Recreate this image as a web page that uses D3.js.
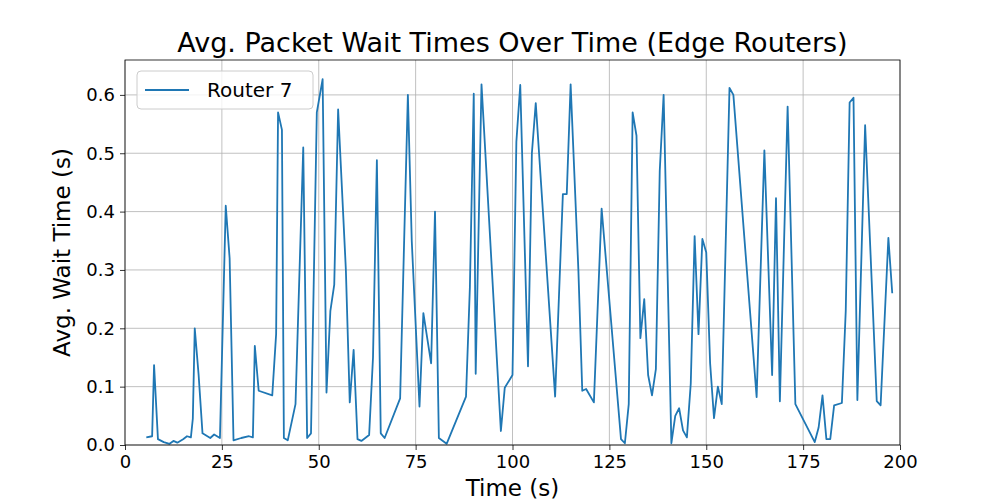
<!DOCTYPE html>
<html>
<head>
<meta charset="utf-8">
<script src="https://cdn.jsdelivr.net/npm/d3@7"></script>
<style>
  body { margin: 0; background: #fff; }
  text { font-family: "DejaVu Sans", sans-serif; }
</style>
</head>
<body>
<svg id="chart" width="1000" height="500"></svg>
<script>
// Data
const times = [5.5, 7, 7.5, 8.5, 10, 11.5, 12.5, 13.5, 15, 16, 17, 17.5, 18, 19, 20, 22, 23, 24.5, 26, 27,
  28, 30, 32, 33, 33.5, 34.5, 38, 39, 39.5, 40.5, 41, 42, 44, 46, 47, 48, 49.5, 51, 52, 53,
  54, 55, 57, 58, 59, 60, 61, 63, 64, 65, 66, 67, 71, 73, 74, 76, 77, 79, 80, 81,
  83, 88, 89, 90, 90.5, 92, 93, 97, 98, 100, 101, 102, 104, 105, 106, 111, 113, 114, 115, 117,
  118, 119, 121, 123, 128, 129, 130, 131, 132, 133, 134, 135, 136, 137, 138, 139, 141, 142, 143, 144,
  145, 146, 147, 148, 149, 150, 151, 152, 153, 154, 156, 157, 163, 165, 167, 168, 169, 171, 173, 178,
  179, 180, 181, 182, 183, 185, 186, 187, 188, 189, 191, 194, 195, 197, 198];
const waits = [0.013, 0.015, 0.137, 0.01, 0.005, 0.002, 0.007, 0.004, 0.01, 0.015, 0.013, 0.045, 0.2, 0.12, 0.02, 0.012, 0.018, 0.012, 0.41, 0.32,
  0.008, 0.012, 0.015, 0.013, 0.17, 0.093, 0.085, 0.19, 0.57, 0.54, 0.012, 0.008, 0.07, 0.51, 0.012, 0.02, 0.57, 0.627, 0.09, 0.23,
  0.275, 0.575, 0.3, 0.073, 0.163, 0.01, 0.007, 0.017, 0.15, 0.488, 0.02, 0.012, 0.08, 0.6, 0.35, 0.066, 0.226, 0.14, 0.4, 0.012,
  0.002, 0.083, 0.27, 0.602, 0.122, 0.618, 0.5, 0.024, 0.098, 0.12, 0.52, 0.617, 0.135, 0.5, 0.586, 0.083, 0.43, 0.43, 0.618, 0.3,
  0.093, 0.096, 0.073, 0.405, 0.01, 0.003, 0.07, 0.57, 0.53, 0.183, 0.25, 0.12, 0.085, 0.13, 0.47, 0.6, 0.003, 0.05, 0.063, 0.025,
  0.013, 0.105, 0.358, 0.19, 0.353, 0.33, 0.14, 0.046, 0.1, 0.07, 0.612, 0.6, 0.082, 0.505, 0.12, 0.423, 0.075, 0.58, 0.07, 0.005,
  0.03, 0.085, 0.01, 0.01, 0.068, 0.072, 0.23, 0.587, 0.595, 0.077, 0.548, 0.075, 0.068, 0.355, 0.26];
const xTicks = [0, 25, 50, 75, 100, 125, 150, 175, 200];
const yTicks = [0, 0.1, 0.2, 0.3, 0.4, 0.5, 0.6];

const margin = { left: 125, right: 100, top: 60, bottom: 55 };
const width = 1000 - margin.left - margin.right;
const height = 500 - margin.top - margin.bottom;

const svg = d3.select("#chart");
const g = svg.append("g").attr("transform", `translate(${margin.left},${margin.top})`);

const x = d3.scaleLinear().domain([0, 200]).range([0, width]);
const y = d3.scaleLinear().domain([0, 0.6598]).range([height, 0]);

// Grid lines
g.selectAll(".gx").data(xTicks).enter().append("line")
  .attr("x1", d => x(d)).attr("x2", d => x(d)).attr("y1", 0).attr("y2", height)
  .attr("stroke", "#b0b0b0").attr("stroke-width", 0.8);
g.selectAll(".gy").data(yTicks).enter().append("line")
  .attr("y1", d => y(d)).attr("y2", d => y(d)).attr("x1", 0).attr("x2", width)
  .attr("stroke", "#b0b0b0").attr("stroke-width", 0.8);

// Axes
const xAxis = g.append("g").attr("transform", `translate(0,${height})`)
  .call(d3.axisBottom(x).tickValues(xTicks).tickSize(5).tickPadding(5));
const yAxis = g.append("g")
  .call(d3.axisLeft(y).tickValues(yTicks).tickFormat(d3.format(".1f")).tickSize(5).tickPadding(5));
[xAxis, yAxis].forEach(a => {
  a.select(".domain").remove();
  a.selectAll("text").style("font-size", "18px").attr("fill", "#000");
  a.selectAll("line").attr("stroke", "#000").attr("stroke-width", 0.8);
});

// Line
const points = times.map((t, i) => [t, waits[i]]);
g.append("path").datum(points)
  .attr("fill", "none").attr("stroke", "#1f77b4").attr("stroke-width", 1.8)
  .attr("stroke-linejoin", "round")
  .attr("d", d3.line().x(d => x(d[0])).y(d => y(d[1])));

// Frame
g.append("rect").attr("width", width).attr("height", height)
  .attr("fill", "none").attr("stroke", "#000").attr("stroke-width", 0.8);

// Legend
const lg = g.append("g").attr("transform", "translate(12,11)");
lg.append("rect").attr("width", 176).attr("height", 38).attr("rx", 4)
  .attr("fill", "#fff").attr("fill-opacity", 0.8).attr("stroke", "#ccc");
lg.append("line").attr("x1", 8).attr("x2", 52).attr("y1", 19).attr("y2", 19)
  .attr("stroke", "#1f77b4").attr("stroke-width", 1.8);
lg.append("text").attr("x", 70).attr("y", 26).style("font-size", "20px").text("Router 7");

// Titles
svg.append("text").attr("x", margin.left + width / 2).attr("y", 52)
  .attr("text-anchor", "middle").style("font-size", "27px")
  .text("Avg. Packet Wait Times Over Time (Edge Routers)");
svg.append("text").attr("x", margin.left + width / 2).attr("y", 496)
  .attr("text-anchor", "middle").style("font-size", "23px").text("Time (s)");
svg.append("text").attr("transform", `translate(70,${margin.top + height / 2}) rotate(-90)`)
  .attr("text-anchor", "middle").style("font-size", "23px").text("Avg. Wait Time (s)");
</script>
</body>
</html>
